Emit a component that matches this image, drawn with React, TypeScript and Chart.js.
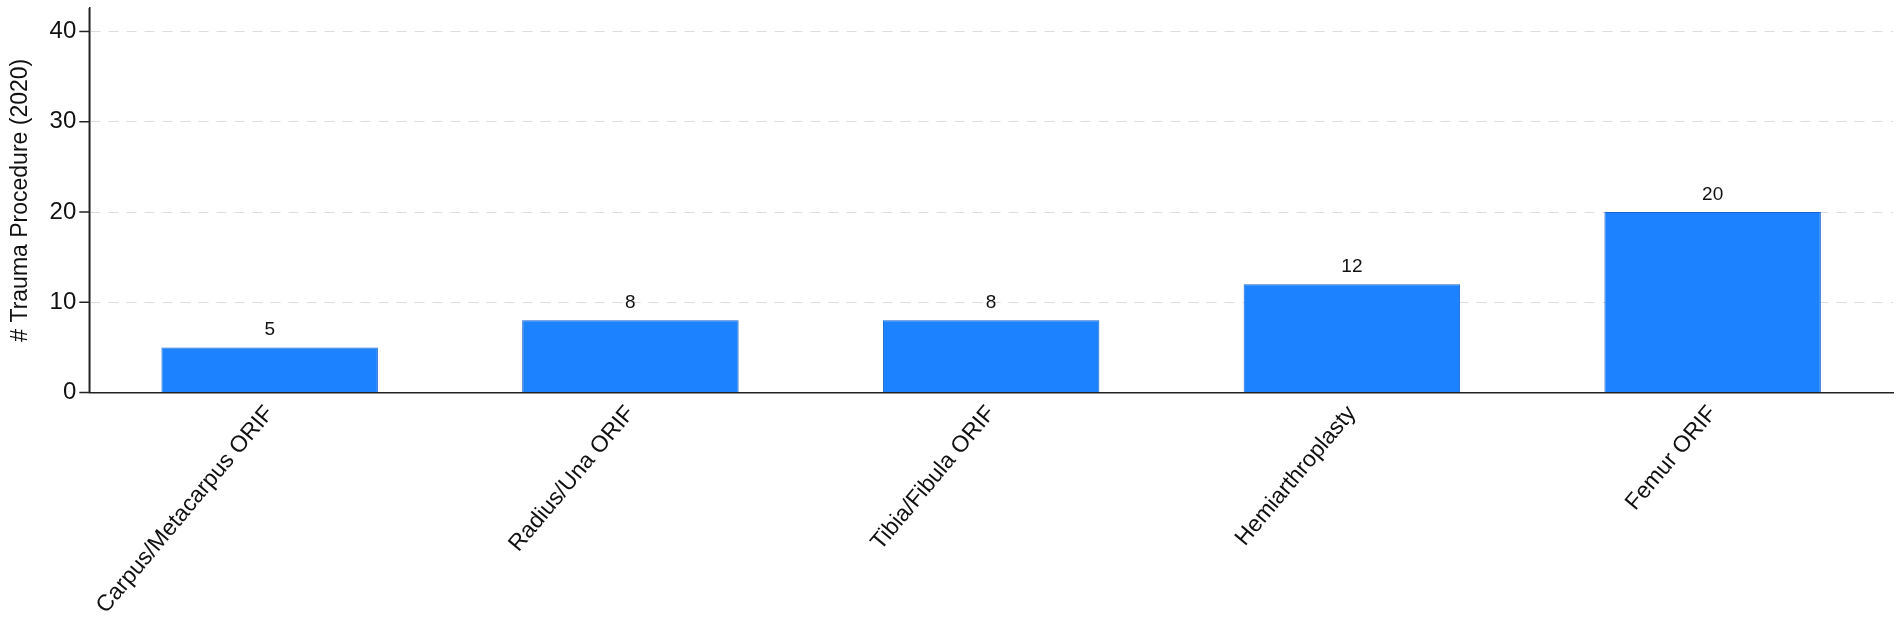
import React, { useEffect, useRef } from "react";
import { Chart, registerables } from "chart.js";

Chart.register(...registerables);

const categories = [
  "Carpus/Metacarpus ORIF",
  "Radius/Una ORIF",
  "Tibia/Fibula ORIF",
  "Hemiarthroplasty",
  "Femur ORIF",
];
const values = [5, 8, 8, 12, 20];
const yTicks = [0, 10, 20, 30, 40];
const yTitle = "# Trauma Procedure (2020)";

const FONT = "'Liberation Sans', Arial, sans-serif";

const valueLabels = {
  id: "valueLabels",
  afterDatasetsDraw(chart: any) {
    const ctx = chart.ctx;
    const meta = chart.getDatasetMeta(0);
    ctx.save();
    ctx.font = `19px ${FONT}`;
    ctx.fillStyle = "#111";
    ctx.textAlign = "center";
    ctx.textBaseline = "bottom";
    meta.data.forEach((bar: any, i: number) => {
      ctx.fillText(String(values[i]), bar.x, bar.y - 8);
    });
    ctx.restore();
  },
};

export default function App() {
  const ref = useRef<HTMLCanvasElement | null>(null);
  useEffect(() => {
    document.body.style.margin = "0";
    const chart = new Chart(ref.current as HTMLCanvasElement, {
      type: "bar",
      data: {
        labels: categories,
        datasets: [
          {
            data: values,
            backgroundColor: "rgb(28,130,255)",
            borderColor: "rgb(20,100,205)",
            borderWidth: 1,
            categoryPercentage: 1,
            barPercentage: 0.6,
          },
        ],
      },
      options: {
        animation: false,
        responsive: false,
        maintainAspectRatio: false,
        layout: { padding: { top: 8, right: 9, left: 1, bottom: -8 } },
        plugins: { legend: { display: false }, tooltip: { enabled: false } },
        scales: {
          x: {
            grid: { display: false, drawTicks: false },
            border: { color: "#222", width: 1.5 },
            ticks: {
              color: "#111",
              font: { family: FONT, size: 23 },
              minRotation: 50,
              maxRotation: 50,
              padding: 8,
              autoSkip: false,
            },
          },
          y: {
            min: 0,
            max: 42.6,
            afterBuildTicks: (scale: any) => {
              scale.ticks = yTicks.map((v) => ({ value: v }));
            },
            afterFit: (scale: any) => {
              scale.paddingTop = 0;
              scale.paddingBottom = 0;
            },
            grid: {
              color: (c: any) => (c.tick && c.tick.value === 0 ? "rgba(0,0,0,0)" : "#dddddd"),
              drawTicks: false,
              tickLength: 0,
            },
            border: { color: "#222", width: 1.5, dash: [10, 8], dashOffset: 0 },
            title: {
              display: true,
              text: yTitle,
              color: "#111",
              font: { family: FONT, size: 23 },
              padding: { top: 6, bottom: 2 },
            },
            ticks: {
              color: "#111",
              font: { family: FONT, size: 24 },
              padding: 13,
            },
          },
        },
      },
      plugins: [
        valueLabels,
        {
          id: "yTickMarks",
          afterDraw(chart: any) {
            const { ctx, scales } = chart;
            const y = scales.y;
            const left = chart.chartArea.left;
            ctx.save();
            ctx.strokeStyle = "#222";
            ctx.lineWidth = 1.5;
            ctx.setLineDash([]);
            ctx.beginPath();
            ctx.moveTo(left, chart.chartArea.top);
            ctx.lineTo(left, chart.chartArea.bottom);
            ctx.stroke();
            yTicks.forEach((v) => {
              const py = y.getPixelForValue(v);
              ctx.beginPath();
              ctx.moveTo(left - 10, py);
              ctx.lineTo(left, py);
              ctx.stroke();
            });
            ctx.restore();
          },
        },
      ],
    } as any);
    return () => chart.destroy();
  }, []);
  return (
    <div style={{ width: 1902, height: 619 }}>
      <canvas ref={ref} width={1902} height={619} />
    </div>
  );
}
